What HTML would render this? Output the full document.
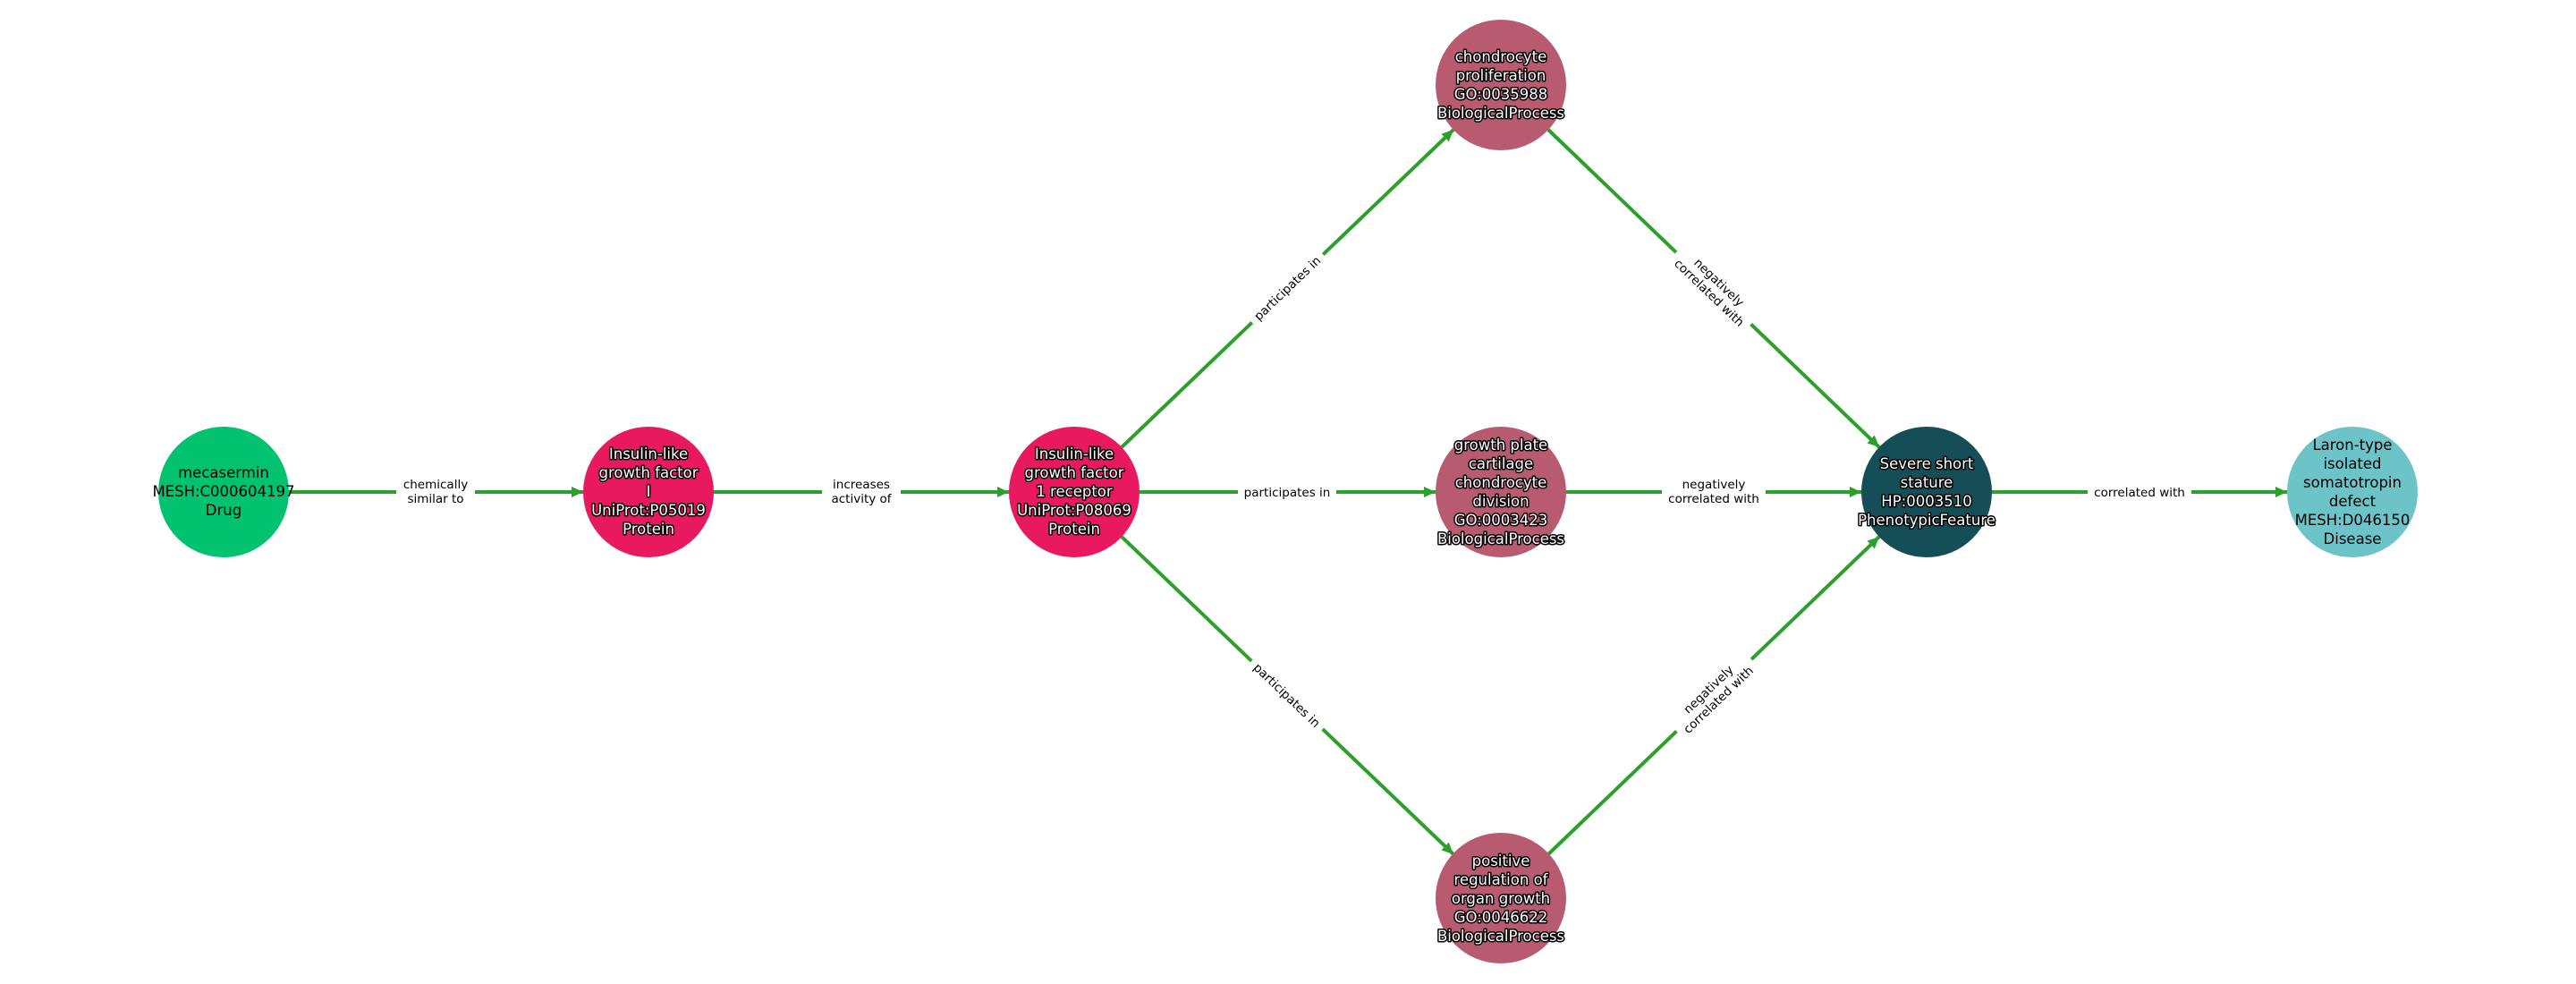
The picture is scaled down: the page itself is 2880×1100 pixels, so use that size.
<!DOCTYPE html>
<html><head><meta charset="utf-8"><style>
html,body{margin:0;padding:0;background:#fff;}
svg{display:block;}
.n{font-family:"DejaVu Sans","Liberation Sans",sans-serif;font-size:16.5px;text-anchor:middle;}
.w{fill:#fff;stroke:#000;stroke-width:3px;paint-order:stroke;stroke-linejoin:round;}
.b{fill:#000;}
.e{font-family:"DejaVu Sans","Liberation Sans",sans-serif;font-size:13.5px;text-anchor:middle;fill:#000;}
line{stroke:#2ca02c;stroke-width:4;}
</style></head><body>
<svg width="2880" height="1100" viewBox="0 0 2880 1100" xmlns="http://www.w3.org/2000/svg">
<defs>
<marker id="a" markerUnits="userSpaceOnUse" markerWidth="14" markerHeight="12" refX="13" refY="6" orient="auto">
<path d="M0,0 L13,6 L0,12 z" fill="#2ca02c"/>
</marker>
</defs>
<!-- edges -->
<line x1="323" y1="550" x2="652" y2="550" marker-end="url(#a)"/>
<line x1="798" y1="550" x2="1128" y2="550" marker-end="url(#a)"/>
<line x1="1274" y1="550" x2="1605" y2="550" marker-end="url(#a)"/>
<line x1="1751" y1="550" x2="2081" y2="550" marker-end="url(#a)"/>
<line x1="2227" y1="550" x2="2557" y2="550" marker-end="url(#a)"/>
<line x1="1254" y1="500" x2="1625" y2="145" marker-end="url(#a)"/>
<line x1="1254" y1="600" x2="1625" y2="955" marker-end="url(#a)"/>
<line x1="1731" y1="145" x2="2101" y2="500" marker-end="url(#a)"/>
<line x1="1731" y1="955" x2="2101" y2="600" marker-end="url(#a)"/>
<!-- edge labels -->
<g transform="translate(487,550)"><rect x="-44" y="-18" width="88" height="36" fill="#fff"/><text class="e" y="-4">chemically</text><text class="e" y="12">similar to</text></g>
<g transform="translate(963,550)"><rect x="-44" y="-18" width="88" height="36" fill="#fff"/><text class="e" y="-4">increases</text><text class="e" y="12">activity of</text></g>
<g transform="translate(1439,550)"><rect x="-55" y="-10" width="110" height="20" fill="#fff"/><text class="e" y="5">participates in</text></g>
<g transform="translate(1916,550)"><rect x="-58" y="-18" width="116" height="36" fill="#fff"/><text class="e" y="-4">negatively</text><text class="e" y="12">correlated with</text></g>
<g transform="translate(2392,550)"><rect x="-58" y="-10" width="116" height="20" fill="#fff"/><text class="e" y="5">correlated with</text></g>
<g transform="translate(1439,322) rotate(-43.7)"><rect x="-55" y="-10" width="110" height="20" fill="#fff"/><text class="e" y="5">participates in</text></g>
<g transform="translate(1439,777) rotate(43.7)"><rect x="-55" y="-10" width="110" height="20" fill="#fff"/><text class="e" y="5">participates in</text></g>
<g transform="translate(1916,322) rotate(43.7)"><rect x="-58" y="-18" width="116" height="36" fill="#fff"/><text class="e" y="-4">negatively</text><text class="e" y="12">correlated with</text></g>
<g transform="translate(1916,777) rotate(-43.7)"><rect x="-58" y="-18" width="116" height="36" fill="#fff"/><text class="e" y="-4">negatively</text><text class="e" y="12">correlated with</text></g>
<!-- nodes -->
<circle cx="250" cy="550" r="73" fill="#00c26f"/>
<text class="n b" x="250"><tspan x="250" y="534">mecasermin</tspan><tspan x="250" y="555">MESH:C000604197</tspan><tspan x="250" y="576">Drug</tspan></text>
<circle cx="725" cy="550" r="73" fill="#e8195e"/>
<text class="n w"><tspan x="725" y="513">Insulin-like</tspan><tspan x="725" y="534">growth factor</tspan><tspan x="725" y="555">I</tspan><tspan x="725" y="576">UniProt:P05019</tspan><tspan x="725" y="597">Protein</tspan></text>
<circle cx="1201" cy="550" r="73" fill="#e8195e"/>
<text class="n w"><tspan x="1201" y="513">Insulin-like</tspan><tspan x="1201" y="534">growth factor</tspan><tspan x="1201" y="555">1 receptor</tspan><tspan x="1201" y="576">UniProt:P08069</tspan><tspan x="1201" y="597">Protein</tspan></text>
<circle cx="1678" cy="95" r="73" fill="#b85a70"/>
<text class="n w"><tspan x="1678" y="69">chondrocyte</tspan><tspan x="1678" y="90">proliferation</tspan><tspan x="1678" y="111">GO:0035988</tspan><tspan x="1678" y="132">BiologicalProcess</tspan></text>
<circle cx="1678" cy="550" r="73" fill="#b85a70"/>
<text class="n w"><tspan x="1678" y="503">growth plate</tspan><tspan x="1678" y="524">cartilage</tspan><tspan x="1678" y="545">chondrocyte</tspan><tspan x="1678" y="566">division</tspan><tspan x="1678" y="587">GO:0003423</tspan><tspan x="1678" y="608">BiologicalProcess</tspan></text>
<circle cx="1678" cy="1004" r="73" fill="#b85a70"/>
<text class="n w"><tspan x="1678" y="968">positive</tspan><tspan x="1678" y="989">regulation of</tspan><tspan x="1678" y="1010">organ growth</tspan><tspan x="1678" y="1031">GO:0046622</tspan><tspan x="1678" y="1052">BiologicalProcess</tspan></text>
<circle cx="2154" cy="550" r="73" fill="#154e56"/>
<text class="n w"><tspan x="2154" y="524">Severe short</tspan><tspan x="2154" y="545">stature</tspan><tspan x="2154" y="566">HP:0003510</tspan><tspan x="2154" y="587">PhenotypicFeature</tspan></text>
<circle cx="2630" cy="550" r="73" fill="#6cc3c8"/>
<text class="n b"><tspan x="2630" y="503">Laron-type</tspan><tspan x="2630" y="524">isolated</tspan><tspan x="2630" y="545">somatotropin</tspan><tspan x="2630" y="566">defect</tspan><tspan x="2630" y="587">MESH:D046150</tspan><tspan x="2630" y="608">Disease</tspan></text>
</svg>
</body></html>
